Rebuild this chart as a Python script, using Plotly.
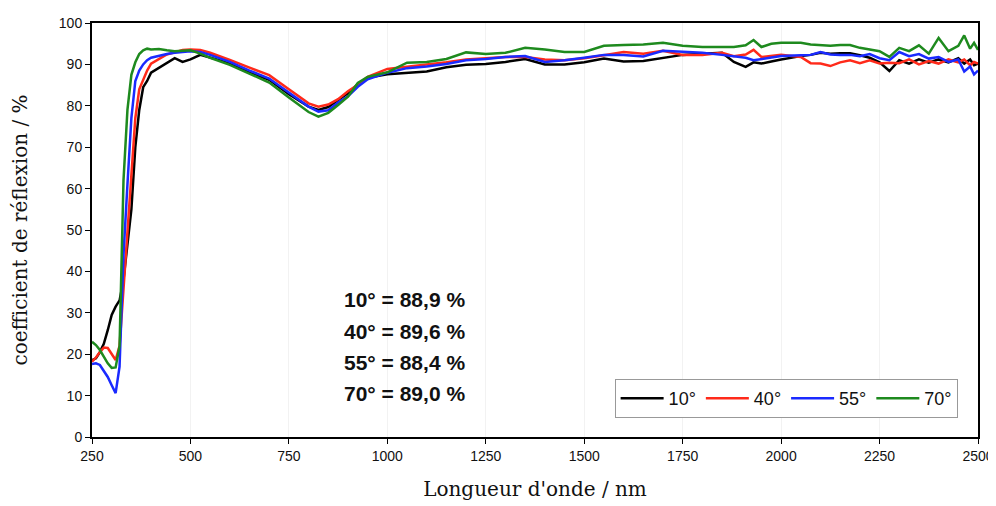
import plotly.graph_objects as go

wavelength = [250, 260, 270, 280, 290, 300, 310, 320, 330, 340, 350, 360, 370, 380, 390, 400,
              420, 440, 460, 480, 500, 525, 550, 600, 650, 700, 750, 800, 825, 850, 875, 900,
              925, 950, 1000, 1050, 1100, 1150, 1200, 1250, 1300, 1350, 1400, 1450, 1500, 1550,
              1600, 1650, 1700, 1750, 1800, 1850, 1880, 1910, 1930, 1950, 1975, 2000, 2050, 2075,
              2100, 2125, 2150, 2175, 2200, 2225, 2250, 2275, 2300, 2325, 2350, 2375, 2400, 2425,
              2450, 2465, 2480, 2490, 2500]

r10 = [18.6, 19, 20.5, 22.5, 25.8, 29.5, 31.5, 33, 38, 47, 55, 70, 79, 84.5, 86, 88,
       89.2, 90.3, 91.5, 90.6, 91.2, 92.3, 91.6, 90.3, 88, 86.3, 82.8, 79.8, 79, 79.7, 81.4, 83,
       85.2, 86.8, 87.6, 88, 88.3, 89.3, 89.9, 90.1, 90.6, 91.3, 90, 90, 90.5, 91.4,
       90.7, 90.8, 91.6, 92.3, 92.6, 92.8, 90.6, 89.4, 90.5, 90.2, 90.7, 91.2, 92, 92.3,
       92.8, 92.6, 92.7, 92.7, 92.2, 91.6, 90.5, 88.4, 91, 90.2, 91.2, 90.4, 91.2, 90.5,
       91.5, 90.2, 91.2, 89.8, 90.2]

r40 = [18.2, 19.2, 20.5, 21.6, 21.5, 20, 18.6, 22, 36, 50, 64, 77, 84, 86.5, 88.5, 90.2,
       91.3, 92.4, 92.9, 93.5, 93.6, 93.5, 92.8, 91.1, 89.2, 87.4, 84, 80.6, 79.8, 80.3, 81.6, 83.5,
       85.1, 87, 88.9, 89.4, 89.9, 90.5, 91.2, 91.5, 91.8, 91.8, 91.2, 91, 91.5, 92.2,
       93, 92.6, 93.3, 92.3, 92.3, 92.8, 92, 92.4, 93.5, 91.8, 92.1, 92.3, 91.8, 90.3,
       90.2, 89.6, 90.5, 91, 90.3, 91, 90.2, 90.4, 90.3, 91.2, 90, 90.8, 90.2, 91.2,
       90.5, 91.2, 89.8, 90.6, 90.2]

r55 = [17.6, 17.8, 17.4, 16, 14.5, 12.5, 10.6, 17, 44, 61, 77, 86, 88.5, 90, 91, 91.6,
       92.1, 92.5, 92.8, 93, 93.2, 93, 92.3, 90.6, 88.5, 86.6, 83.3, 79.8, 78.6, 78.9, 80.8, 82.3,
       84.6, 86.4, 88, 89.1, 89.5, 90.1, 91, 91.3, 91.8, 92, 90.6, 91, 91.6, 92.3,
       92.3, 91.9, 93.3, 93.1, 92.8, 92.3, 92, 91.6, 91, 91.3, 91.6, 92, 92.2, 92.3,
       93, 92.4, 92.3, 92.3, 92, 92.5, 91.5, 91, 93, 92, 92.5, 91.4, 91.8, 90.6,
       91.2, 88.3, 89.5, 87.6, 88.5]

r70 = [23, 22.2, 21, 19.3, 17.8, 16.7, 16.8, 22, 62, 79, 87.5, 90.5, 92.5, 93.4, 93.8, 93.6,
       93.7, 93.4, 93.2, 93.3, 93.4, 92.6, 91.6, 89.9, 87.8, 85.6, 82, 78.5, 77.4, 78.3, 80.2, 82.2,
       85.5, 87, 88.1, 90.4, 90.6, 91.3, 92.9, 92.5, 92.8, 94, 93.6, 93, 93, 94.5,
       94.7, 94.8, 95.2, 94.5, 94.2, 94.2, 94.2, 94.6, 95.9, 94.2, 95, 95.2, 95.2, 94.8,
       94.7, 94.5, 94.7, 94.7, 94, 93.6, 93.2, 91.8, 94, 93.2, 94.6, 92.6, 96.4, 93.2,
       94.5, 97, 93.8, 95.2, 93.5]

series_names = ["10°", "40°", "55°", "70°"]
series_values = [r10, r40, r55, r70]
series_colors = ["#000000", "#ff2a1a", "#1a2aff", "#1e8a1e"]

mean_labels = ["10° = 88,9 %", "40° = 89,6 %", "55° = 88,4 %", "70° = 89,0 %"]
label_y = [33.1, 25.6, 18.1, 10.6]

x_ticks = [250, 500, 750, 1000, 1250, 1500, 1750, 2000, 2250, 2500]
y_ticks = [0, 10, 20, 30, 40, 50, 60, 70, 80, 90, 100]

fig = go.Figure()
for name, vals, col in zip(series_names, series_values, series_colors):
    fig.add_trace(go.Scatter(x=wavelength, y=vals, mode="lines", name=name,
                             line=dict(color=col, width=2.5)))

for txt, yv in zip(mean_labels, label_y):
    fig.add_annotation(x=885, y=yv, xref="x", yref="y", text="<b>" + txt + "</b>",
                       showarrow=False, xanchor="left", yanchor="middle",
                       font=dict(family="Liberation Sans, Arial", size=21, color="#111"))

axis_common = dict(showline=True, linecolor="black", linewidth=2, mirror=True,
                   ticks="outside", ticklen=5, tickcolor="black", zeroline=False,
                   automargin=False,
                   tickfont=dict(family="Liberation Sans, Arial", size=14, color="#111"))

fig.update_xaxes(range=[250, 2500], tickvals=x_ticks, showgrid=True, gridcolor="#f2f2f2",
                 title=dict(text="Longueur d'onde / nm", standoff=19,
                            font=dict(family="DejaVu Serif", size=20, color="#111")),
                 **axis_common)
fig.update_yaxes(range=[0, 100], tickvals=y_ticks, showgrid=False,
                 title=dict(text="coefficient de réflexion / %", standoff=38,
                            font=dict(family="DejaVu Serif", size=20, color="#111")),
                 **axis_common)

# the page body adds an 8px offset, so the figure is 8px smaller on each axis
fig.update_layout(
    width=988, height=498,
    margin=dict(l=84, r=18, t=15, b=69),
    paper_bgcolor="white", plot_bgcolor="white",
    showlegend=True,
    legend=dict(orientation="h", x=0.977, y=0.046, xanchor="right", yanchor="bottom",
                bordercolor="#999", borderwidth=1, bgcolor="white",
                font=dict(family="Liberation Sans, Arial", size=18, color="#111"),
                tracegroupgap=0, itemwidth=43),
)

fig.write_html("out.html")
